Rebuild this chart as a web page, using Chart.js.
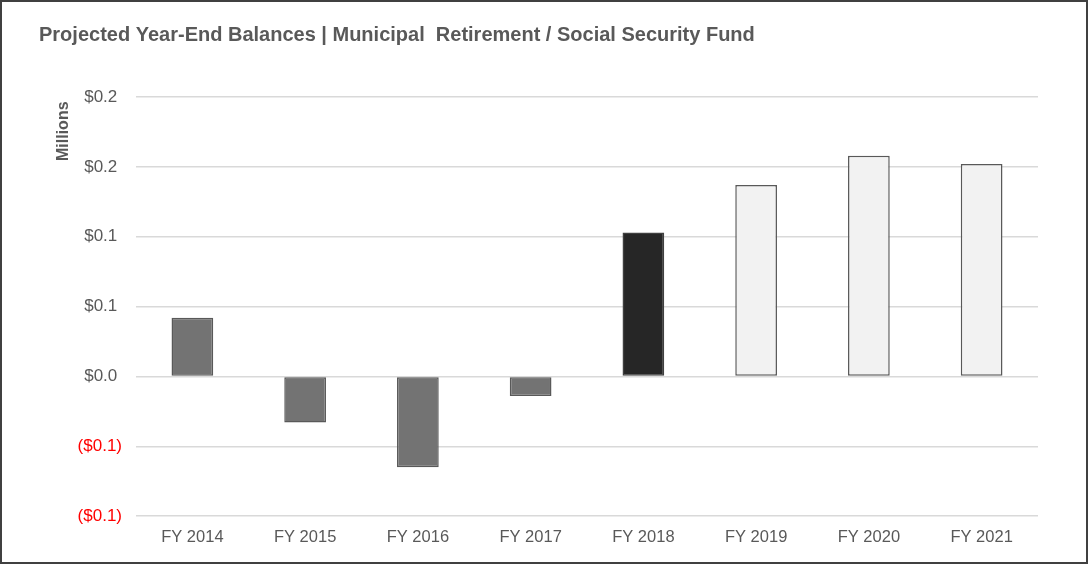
<!DOCTYPE html>
<html>
<head>
<meta charset="utf-8">
<script src="https://cdn.jsdelivr.net/npm/chart.js@4"></script>
<style>
  html, body { margin: 0; padding: 0; background: #fff; }
  #wrap { width: 1088px; height: 564px; position: relative; }
</style>
</head>
<body>
<div id="wrap"><canvas id="balanceChart"></canvas></div>
<script>
// fund balances in millions
var fiscalYears = ['FY 2014', 'FY 2015', 'FY 2016', 'FY 2017', 'FY 2018', 'FY 2019', 'FY 2020', 'FY 2021'];
var yearEndBalance = [0.042, -0.033, -0.065, -0.014, 0.103, 0.137, 0.158, 0.152];
var balanceType = ['actual', 'actual', 'actual', 'actual', 'budget', 'projected', 'projected', 'projected'];
var axisMin = -0.1, axisMax = 0.2, axisStep = 0.05;

var fillByType = { actual: '#737373', budget: '#262626', projected: '#f2f2f2' };
var edgeByType = { actual: '#595959', budget: '#404040', projected: '#595959' };

Chart.defaults.font.family = '"Liberation Sans", Arial, sans-serif';
Chart.defaults.color = '#595959';

// outer frame around the chart
var frame = {
    id: 'frame',
    afterDraw: function (chart) {
        var ctx = chart.ctx;
        ctx.save();
        ctx.strokeStyle = '#404040';
        ctx.lineWidth = 2;
        ctx.strokeRect(1, 1, chart.width - 2, chart.height - 2);
        ctx.restore();
    }
};

// one decimal, rounded half away from zero, negatives in parentheses
function moneyLabel(v) {
    var s = '$' + (Math.round(Math.abs(v) * 10 + 1e-9) / 10).toFixed(1);
    return v < 0 ? '(' + s + ')' : s + ' ';
}

var balanceChart = new Chart(document.getElementById('balanceChart').getContext('2d'), {
    type: 'bar',
    data: {
        labels: fiscalYears,
        datasets: [{
            label: 'Year-End Balance',
            data: yearEndBalance,
            backgroundColor: balanceType.map(function (t) { return fillByType[t]; }),
            borderColor: balanceType.map(function (t) { return edgeByType[t]; }),
            borderWidth: 1.5,
            borderSkipped: false,
            barPercentage: 0.37,
            categoryPercentage: 1
        }]
    },
    plugins: [frame],
    options: {
        responsive: true,
        maintainAspectRatio: false,
        animation: false,
        layout: { padding: { left: 39, right: 50, top: 14, bottom: 14 } },
        plugins: {
            legend: { display: false },
            tooltip: { enabled: false },
            title: {
                display: true,
                align: 'start',
                text: 'Projected Year-End Balances | Municipal  Retirement / Social Security Fund',
                color: '#595959',
                font: { size: 20, weight: 'bold' },
                padding: { top: 9, bottom: 50 }
            }
        },
        scales: {
            x: {
                grid: { display: false },
                border: { display: false },
                ticks: { font: { size: 16.5 }, color: '#595959', padding: 3 }
            },
            y: {
                min: axisMin,
                max: axisMax,
                afterFit: function (scale) { scale.width = 97; },
                afterBuildTicks: function (scale) {
                    var ticks = [];
                    for (var v = axisMin; v <= axisMax + 1e-9; v += axisStep) {
                        ticks.push({ value: Math.round(v * 100) / 100 });
                    }
                    scale.ticks = ticks;
                },
                grid: { color: '#d9d9d9', lineWidth: 1.5, drawTicks: false },
                border: { display: false },
                ticks: {
                    font: { size: 17 },
                    padding: 14,
                    color: function (ctx) { return ctx.tick.value < 0 ? '#ff0000' : '#595959'; },
                    callback: function (v) { return moneyLabel(v); }
                },
                title: {
                    display: true,
                    text: 'Millions ',
                    align: 'end',
                    color: '#595959',
                    font: { size: 16, weight: 'bold' },
                    padding: { top: 15 }
                }
            }
        }
    }
});
</script>
</body>
</html>
